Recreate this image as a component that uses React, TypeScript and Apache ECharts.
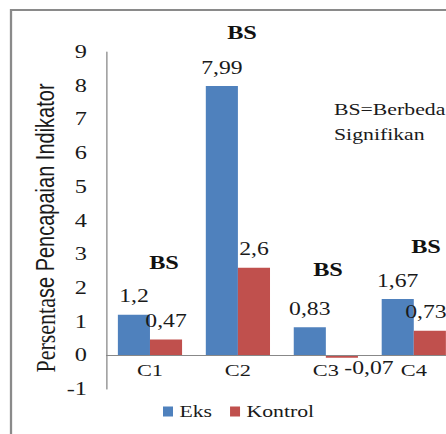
import React, { useEffect, useRef } from "react";
import * as echarts from "echarts";

const categories = ["C1", "C2", "C3", "C4"];
const eksValues = [1.2, 7.99, 0.83, 1.67];
const kontrolValues = [0.47, 2.6, -0.07, 0.73];
const seriesNames = ["Eks", "Kontrol"];
const yAxisTitleParts = ["Persenta", "se Pencapaian Indikator"];
const noteLines = ["BS=Berbeda", "Signifikan"];
const bsLabel = "BS";

const SERIF = "Liberation Serif";
const SANS = "Liberation Sans";

// the reference picture is stretched horizontally and cropped on the right
const K = 1.28;
const FULL_W = 470; // chart extends past the visible 446px, as in the reference
const W = FULL_W / K;
const px = (x: number) => x / K;

const fmt = (v: number) => String(v).replace(".", ",");

export default function App() {
  const ref = useRef<HTMLDivElement>(null);
  useEffect(() => {
    if (!ref.current) return;
    const chart = echarts.init(ref.current, null, { renderer: "svg" });
    const labelStyle = {
      show: true,
      position: "top" as const,
      distance: 9,
      fontFamily: SERIF,
      fontSize: 18.5,
      color: "#1a1a1a",
      formatter: (p: any) => fmt(p.value),
    };
    const lastIdx = kontrolValues.length - 1;
    chart.setOption({
      animation: false,
      backgroundColor: "#fff",
      textStyle: { fontFamily: SERIF },
      grid: { left: px(106), right: px(FULL_W - 458), top: 52, bottom: 45, containLabel: false },
      legend: {
        data: seriesNames,
        left: px(163),
        top: 403,
        icon: "rect",
        itemWidth: px(10),
        itemHeight: 10,
        itemGap: px(18),
        padding: 0,
        textStyle: { fontFamily: SERIF, fontSize: 17, color: "#1a1a1a" },
      },
      xAxis: {
        type: "category",
        data: categories,
        axisLine: { show: false },
        axisTick: { show: false },
        axisLabel: { fontFamily: SERIF, fontSize: 17.5, color: "#1a1a1a", margin: -28 },
      },
      yAxis: {
        type: "value",
        min: -1,
        max: 9,
        interval: 1,
        splitLine: { show: false },
        axisLine: { show: true, lineStyle: { color: "#888", width: 1 } },
        axisTick: { show: false },
        axisLabel: { fontFamily: SERIF, fontSize: 19, color: "#1a1a1a", margin: px(19) },
      },
      series: [
        {
          name: seriesNames[0],
          type: "bar",
          data: eksValues,
          barGap: "0%",
          barCategoryGap: "27%",
          itemStyle: { color: "#4F81BD" },
          label: labelStyle,
          markLine: {
            silent: true,
            symbol: "none",
            label: { show: false },
            lineStyle: { color: "#888", width: 1, type: "solid" },
            data: [{ yAxis: 0 }],
          },
        },
        {
          name: seriesNames[1],
          type: "bar",
          data: kontrolValues.map((v, i) =>
            v < 0
              ? { value: v, label: { position: "bottom", distance: 1, offset: [px(27), 0] } }
              : i === lastIdx
              ? { value: v, label: { offset: [-px(4), 0] } }
              : v
          ),
          itemStyle: { color: "#C0504D" },
          label: labelStyle,
        },
      ],
      graphic: [
        {
          type: "rect",
          shape: { x: px(11), y: 10, width: 480, height: 480 },
          style: { fill: "none", stroke: "#8a8a8a", lineWidth: 1.8 },
          silent: true,
        },
        {
          type: "text",
          x: px(45),
          y: 228,
          rotation: Math.PI / 2,
          style: {
            text: `{a|${yAxisTitleParts[0]}}{b|${yAxisTitleParts[1]}}`,
            rich: {
              a: { fontFamily: SERIF, fontSize: 22, fill: "#1a1a1a" },
              b: { fontFamily: SANS, fontSize: 20, fill: "#1a1a1a" },
            },
            align: "center",
            verticalAlign: "middle",
          },
        },
        ...[
          [242, 32.5],
          [164, 262.5],
          [328, 270],
          [426, 247],
        ].map(([x, y]) => ({
          type: "text",
          x: px(x),
          y,
          style: {
            text: bsLabel,
            fontFamily: SERIF,
            fontSize: 19,
            fontWeight: "bold",
            fill: "#111",
            align: "center",
            verticalAlign: "middle",
          },
        })),
        {
          type: "text",
          x: px(334),
          y: 97,
          style: {
            text: noteLines.join("\n"),
            fontFamily: SERIF,
            fontSize: 17,
            lineHeight: 25,
            fill: "#1a1a1a",
            align: "left",
            verticalAlign: "top",
          },
        },
      ],
    });
    return () => chart.dispose();
  }, []);
  return (
    <div
      ref={ref}
      style={{
        position: "fixed",
        left: 0,
        top: 0,
        width: W,
        height: 434,
        transform: `scaleX(${K})`,
        transformOrigin: "0 0",
      }}
    />
  );
}
